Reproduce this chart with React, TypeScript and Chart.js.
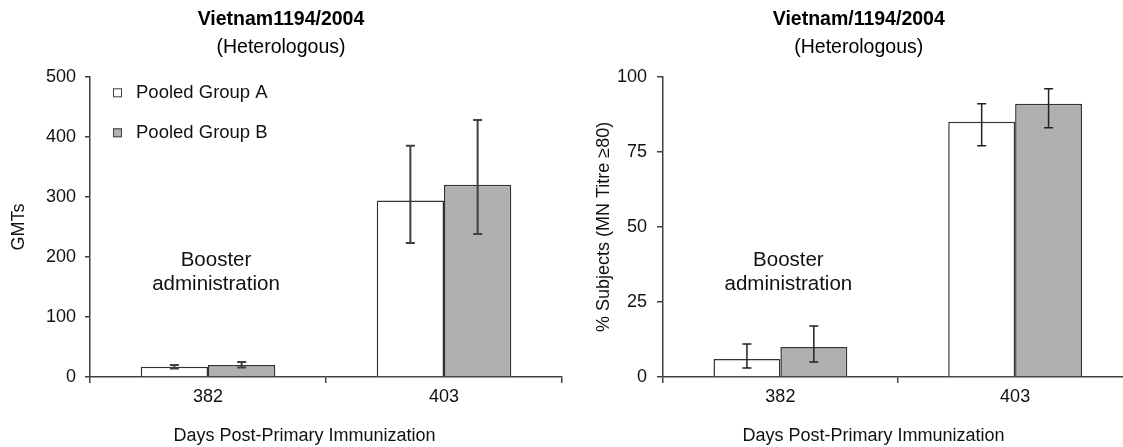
import React, { useEffect, useRef } from "react";
import { Chart, registerables } from "chart.js";

Chart.register(...registerables);

// ---------- data ----------
const categories = ["382", "403"];
const seriesLabels = ["Pooled Group A", "Pooled Group B"];
const seriesColors = ["#ffffff", "#b0b0b0"];

const gmtA = [17, 294];
const gmtB = [20, 320];
const gmtALow = [14, 223];
const gmtAHigh = [20, 385];
const gmtBLow = [16, 238];
const gmtBHigh = [25, 428];

const pctA = [6, 85];
const pctB = [10, 91];
const pctALow = [3, 77];
const pctAHigh = [11, 91];
const pctBLow = [5, 83];
const pctBHigh = [17, 96];

const gmtTicks = [0, 100, 200, 300, 400, 500];
const pctTicks = [0, 25, 50, 75, 100];

const leftTitle = "Vietnam1194/2004";
const rightTitle = "Vietnam/1194/2004";
const subtitleText = "(Heterologous)";
const xTitle = "Days Post-Primary Immunization";
const leftYTitle = "GMTs";
const rightYTitle = "% Subjects (MN Titre ≥80)";
const boosterLines = ["Booster", "administration"];
const leftBoosterValue = 195;
const rightBoosterValue = 39;

const FONT = "'Liberation Sans', Arial, Helvetica, sans-serif";
const AXIS = "#404040";
const INK = "#111111";

Chart.defaults.font.family = FONT;

// ---------- plugins ----------
const errorBarPlugin = {
  id: "errorBars",
  afterDatasetsDraw(chart: any, _args: any, opts: any) {
    const { ctx } = chart;
    const y = chart.scales.y;
    ctx.save();
    ctx.strokeStyle = opts.color;
    ctx.lineWidth = opts.width;
    const cap = opts.cap;
    (opts.bars as { low: number[]; high: number[] }[]).forEach((b, di) => {
      const meta = chart.getDatasetMeta(di);
      meta.data.forEach((el: any, i: number) => {
        const x = el.x;
        const yl = y.getPixelForValue(b.low[i]);
        const yh = y.getPixelForValue(b.high[i]);
        ctx.beginPath();
        ctx.moveTo(x, yl);
        ctx.lineTo(x, yh);
        ctx.moveTo(x - cap, yl);
        ctx.lineTo(x + cap, yl);
        ctx.moveTo(x - cap, yh);
        ctx.lineTo(x + cap, yh);
        ctx.stroke();
      });
    });
    ctx.restore();
  },
};

const innerLegendPlugin = {
  id: "innerLegend",
  afterDraw(chart: any, _args: any, opts: any) {
    if (!opts.display) return;
    const { ctx, chartArea } = chart;
    ctx.save();
    ctx.font = `18.5px ${FONT}`;
    ctx.textBaseline = "middle";
    ctx.textAlign = "left";
    chart.data.datasets.forEach((ds: any, i: number) => {
      const cy = chartArea.top + 16 + i * 40;
      const bx = chartArea.left + 23;
      const s = 9;
      ctx.fillStyle = ds.backgroundColor;
      ctx.fillRect(bx, cy - s / 2, s, s);
      ctx.strokeStyle = AXIS;
      ctx.lineWidth = 1;
      ctx.strokeRect(bx + 0.5, cy - s / 2 + 0.5, s - 1, s - 1);
      ctx.fillStyle = INK;
      ctx.fillText(ds.label, chartArea.left + 46, cy);
    });
    ctx.restore();
  },
};

const noteAndXTitlePlugin = {
  id: "noteAndXTitle",
  afterDraw(chart: any, _args: any, opts: any) {
    const { ctx } = chart;
    const xs = chart.scales.x;
    const ys = chart.scales.y;
    ctx.save();
    ctx.fillStyle = INK;
    ctx.textAlign = "center";
    ctx.textBaseline = "middle";
    ctx.font = `20.5px ${FONT}`;
    const nx = xs.getPixelForValue(0) + 8;
    const ny = ys.getPixelForValue(opts.noteValue);
    (opts.lines as string[]).forEach((t, k) => ctx.fillText(t, nx, ny + k * 24));
    ctx.font = `18px ${FONT}`;
    ctx.fillText(opts.xTitle, chart.width / 2, 436);
    ctx.restore();
  },
};

function makeConfig(p: {
  title: string;
  yTitle: string;
  a: number[];
  b: number[];
  errs: { low: number[]; high: number[] }[];
  ticks: number[];
  yWidth: number;
  padRight: number;
  tickLen: number;
  tickPad: number;
  legend: boolean;
  noteValue: number;
  errWidth: number;
  errColor: string;
}): any {
  return {
    type: "bar",
    data: {
      labels: categories,
      datasets: [
        {
          label: seriesLabels[0],
          data: p.a,
          backgroundColor: seriesColors[0],
          borderColor: "#333333",
          borderWidth: 1.5,
        },
        {
          label: seriesLabels[1],
          data: p.b,
          backgroundColor: seriesColors[1],
          borderColor: "#333333",
          borderWidth: 1.5,
        },
      ],
    },
    plugins: [errorBarPlugin, innerLegendPlugin, noteAndXTitlePlugin],
    options: {
      responsive: false,
      animation: false,
      events: [],
      layout: { padding: { left: 0, right: p.padRight, top: 0, bottom: 0 } },
      datasets: { bar: { categoryPercentage: 0.57, barPercentage: 1.0 } },
      plugins: {
        legend: { display: false },
        tooltip: { enabled: false },
        title: {
          display: true,
          text: p.title,
          color: "#000",
          font: { size: 19.5, weight: "bold", family: FONT },
          padding: { top: 8, bottom: 0 },
        },
        subtitle: {
          display: true,
          text: subtitleText,
          color: "#000",
          font: { size: 19.5, family: FONT },
          padding: { top: 5, bottom: 17 },
        },
        errorBars: { bars: p.errs, width: p.errWidth, color: p.errColor, cap: 4.5 },
        innerLegend: { display: p.legend },
        noteAndXTitle: { lines: boosterLines, noteValue: p.noteValue, xTitle },
      },
      scales: {
        x: {
          offset: true,
          grid: {
            display: true,
            offset: true,
            drawOnChartArea: false,
            drawTicks: true,
            tickLength: 6,
            color: AXIS,
            lineWidth: 1.5,
          },
          border: { display: true, color: AXIS, width: 1.5 },
          ticks: { color: INK, font: { size: 18, family: FONT }, padding: 3 },
          afterFit: (s: any) => {
            s.height = 70;
          },
        },
        y: {
          min: p.ticks[0],
          max: p.ticks[p.ticks.length - 1],
          afterBuildTicks: (s: any) => {
            s.ticks = p.ticks.map((v) => ({ value: v }));
          },
          grid: {
            display: true,
            drawOnChartArea: false,
            drawTicks: true,
            tickLength: p.tickLen,
            color: AXIS,
            lineWidth: 1.5,
          },
          border: { display: true, color: AXIS, width: 1.5 },
          ticks: { color: INK, font: { size: 18, family: FONT }, padding: p.tickPad },
          title: {
            display: true,
            text: p.yTitle,
            color: INK,
            font: { size: 18, family: FONT },
            padding: { top: 8, bottom: 0 },
          },
          afterFit: (s: any) => {
            s.width = p.yWidth;
          },
        },
      },
    },
  };
}

export default function App() {
  const leftRef = useRef<HTMLCanvasElement>(null);
  const rightRef = useRef<HTMLCanvasElement>(null);

  useEffect(() => {
    const c1 = new Chart(
      leftRef.current as HTMLCanvasElement,
      makeConfig({
        title: leftTitle,
        yTitle: leftYTitle,
        a: gmtA,
        b: gmtB,
        errs: [
          { low: gmtALow, high: gmtAHigh },
          { low: gmtBLow, high: gmtBHigh },
        ],
        ticks: gmtTicks,
        yWidth: 90,
        padRight: 47,
        tickLen: 5,
        tickPad: 9,
        legend: true,
        noteValue: leftBoosterValue,
        errWidth: 2,
        errColor: "#404040",
      })
    );
    const c2 = new Chart(
      rightRef.current as HTMLCanvasElement,
      makeConfig({
        title: rightTitle,
        yTitle: rightYTitle,
        a: pctA,
        b: pctB,
        errs: [
          { low: pctALow, high: pctAHigh },
          { low: pctBLow, high: pctBHigh },
        ],
        ticks: pctTicks,
        yWidth: 78,
        padRight: 29.5,
        tickLen: 6,
        tickPad: 10,
        legend: false,
        noteValue: rightBoosterValue,
        errWidth: 1.5,
        errColor: "#222222",
      })
    );
    return () => {
      c1.destroy();
      c2.destroy();
    };
  }, []);

  return (
    <div
      style={{
        position: "absolute",
        left: 0,
        top: 0,
        width: 1123,
        height: 447,
        overflow: "hidden",
        background: "#ffffff",
      }}
    >
      <canvas
        ref={leftRef}
        width={609}
        height={447}
        style={{ position: "absolute", left: 0, top: 0 }}
      />
      <canvas
        ref={rightRef}
        width={577}
        height={447}
        style={{ position: "absolute", left: 585, top: 0 }}
      />
    </div>
  );
}
